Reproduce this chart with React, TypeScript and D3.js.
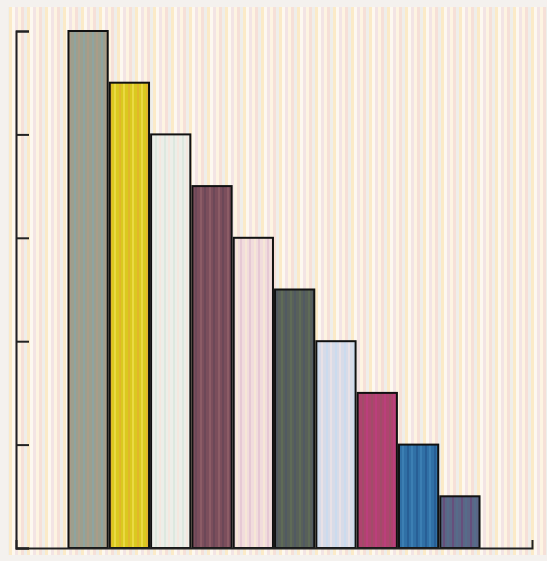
import React, { useEffect, useRef } from "react";
import * as d3 from "d3";

const categories = ["A", "B", "C", "D", "E", "F", "G", "H", "I", "J"];
const values = [10, 9, 8, 7, 6, 5, 4, 3, 2, 1];
const yTicks = [0, 2, 4, 6, 8, 10];
const barBase = ["#9c9f8e", "#dac91f", "#eceee8", "#7b4e5c", "#f1dcdc", "#58605a", "#d7dbe8", "#b0436f", "#3070a6", "#5b6686"];
const barStripeA = ["#8ea4a1", "#e2b72a", "#dde8df", "#8c5c66", "#f6e7d6", "#5f6b57", "#cbdbee", "#a24c69", "#285f96", "#664f7c"];
const barStripeB = ["#aa9c88", "#ead943", "#f4e7df", "#6c4858", "#e6c9d4", "#515a62", "#e8e1e6", "#bb3f7c", "#3c7fb3", "#566c8a"];
const bgStripes = ["#fdf4e2", "#f6e0d8", "#efeeea", "#fbeac8", "#fdf8f0", "#f3e4e4"];

export default function App() {
  const ref = useRef<SVGSVGElement>(null);
  useEffect(() => {
    const W = 547, H = 561;
    const svg = d3.select(ref.current);
    svg.selectAll("*").remove();
    const defs = svg.append("defs");

    // background pattern
    const bp = defs.append("pattern").attr("id", "bgp").attr("patternUnits", "userSpaceOnUse")
      .attr("width", 18).attr("height", 40);
    bgStripes.forEach((c, i) => {
      bp.append("rect").attr("x", i * 3).attr("y", 0).attr("width", 3).attr("height", 40).attr("fill", c);
    });

    categories.forEach((_, i) => {
      const p = defs.append("pattern").attr("id", "bp" + i).attr("patternUnits", "userSpaceOnUse")
        .attr("width", 9).attr("height", 20);
      p.append("rect").attr("width", 9).attr("height", 20).attr("fill", barBase[i]);
      p.append("rect").attr("x", 2).attr("width", 2).attr("height", 20).attr("fill", barStripeA[i]);
      p.append("rect").attr("x", 6).attr("width", 2).attr("height", 20).attr("fill", barStripeB[i]);
    });

    svg.append("rect").attr("width", W).attr("height", H).attr("fill", "#f4f1ee");
    svg.append("rect").attr("x", 8).attr("y", 7).attr("width", W - 8).attr("height", 548).attr("fill", "url(#bgp)");

    const x = d3.scaleBand<string>().domain(categories).range([16, 532]).paddingInner(0.05).paddingOuter(1.27);
    const y = d3.scaleLinear().domain([0, 10]).range([548, 31]);

    svg.append("g").selectAll("rect").data(values).join("rect")
      .attr("x", (_, i) => x(categories[i])!)
      .attr("y", d => y(d))
      .attr("width", x.bandwidth())
      .attr("height", d => y(0) - y(d))
      .attr("fill", (_, i) => `url(#bp${i})`)
      .attr("stroke", "#111")
      .attr("stroke-width", 2);

    const gy = svg.append("g").attr("transform", "translate(16,0)")
      .call(d3.axisLeft(y).tickValues(yTicks).tickSize(-13).tickSizeOuter(-13).tickFormat(() => ""));
    gy.selectAll("path,line").attr("stroke", "#222").attr("stroke-width", 2);

    const gx = svg.append("g").attr("transform", "translate(0,548)")
      .call(d3.axisBottom(x).tickSize(0).tickSizeOuter(-8).tickFormat(() => ""));
    gx.selectAll("path,line").attr("stroke", "#222").attr("stroke-width", 2);
  }, []);
  return <svg ref={ref} width={547} height={561} style={{ position: "absolute", left: 0, top: 0 }} />;
}
